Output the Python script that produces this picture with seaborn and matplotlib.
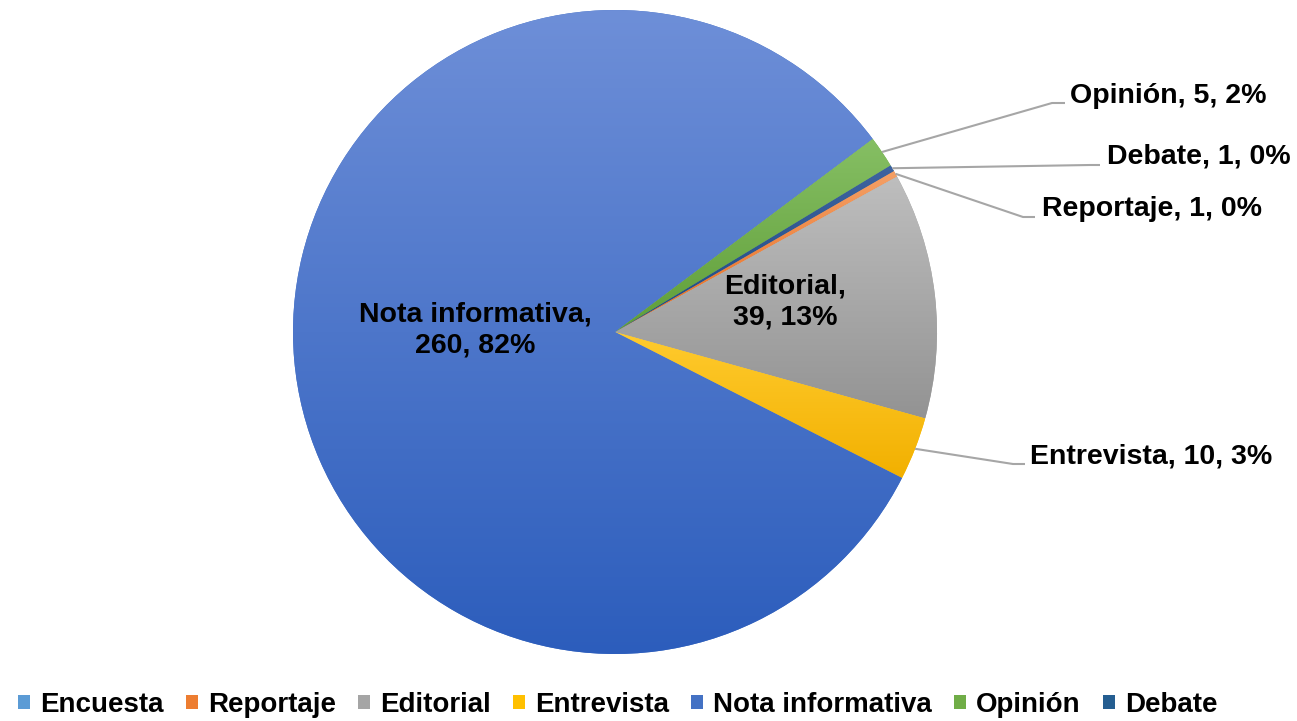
import numpy as np
import matplotlib.pyplot as plt
import seaborn as sns
from matplotlib.colors import LinearSegmentedColormap
from matplotlib.patches import Patch

categories = ["Encuesta", "Reportaje", "Editorial", "Entrevista",
              "Nota informativa", "Opinión", "Debate"]
counts = [0, 1, 39, 10, 260, 5, 1]
pct_labels = ["0%", "0%", "13%", "3%", "82%", "2%", "0%"]

top_colors = ["#6AA6DE", "#F4A066", "#BEBEBE", "#FFCB2E", "#6E8FD8", "#86BF64", "#3E63A0"]
bottom_colors = ["#3F82C8", "#E86B1E", "#939393", "#F2B000", "#2C5DBC", "#5F9E38", "#1E4A80"]
legend_colors = ["#5B9BD5", "#ED7D31", "#A5A5A5", "#FFC000", "#4472C4", "#70AD47", "#255E91"]

sns.set_theme(style="white")
plt.rcParams['font.family'] = ['Liberation Sans', 'DejaVu Sans']

W, H = 1297, 721
fig = plt.figure(figsize=(W / 100, H / 100), dpi=100)
ax = fig.add_axes([0, 0, 1, 1])

cx, cy, R = 615, H - 332, 322
wedges, _ = ax.pie(counts, startangle=30, counterclock=False, center=(cx, cy),
                   radius=R, colors=legend_colors, wedgeprops=dict(linewidth=0))

# vertical gradient in each slice, like the Excel fill
grad = np.linspace(0, 1, 256)[:, None]
for w, c0, c1 in zip(wedges, top_colors, bottom_colors):
    v = w.get_path().vertices
    x0, x1 = v[:, 0].min(), v[:, 0].max()
    y0, y1 = v[:, 1].min(), v[:, 1].max()
    if x1 - x0 < 1e-6 or y1 - y0 < 1e-6:
        continue
    cmap = LinearSegmentedColormap.from_list("g", [c0, c1])
    im = ax.imshow(grad, cmap=cmap, extent=(x0, x1, y0, y1), origin="upper",
                   aspect="auto", zorder=w.get_zorder() + 0.1)
    im.set_clip_path(w)

label_font = dict(fontsize=20.5, fontweight="bold", color="black")

# labels inside the pie: index -> centre (px, top origin)
inside = {4: (475, 330), 2: (785, 302)}
for i, (tx, ty) in inside.items():
    ax.text(tx, H - ty, f"{categories[i]},\n{counts[i]}, {pct_labels[i]}",
            ha="center", va="center", linespacing=1.25, zorder=5, **label_font)

# labels outside with leader lines: index -> (elbow x, elbow y, end x, text x, text y)
outside = {
    5: (1052, 103, 1065, 1070, 96),
    6: (1090, 165, 1100, 1107, 157),
    1: (1023, 217, 1035, 1042, 209),
    3: (1013, 464, 1025, 1030, 456),
}
for i, (ex, ey, endx, tx, ty) in outside.items():
    w = wedges[i]
    mid = np.deg2rad((w.theta1 + w.theta2) / 2)
    sx, sy = cx + R * np.cos(mid), cy + R * np.sin(mid)
    ax.plot([sx, ex, endx], [sy, H - ey, H - ey], color="#A6A6A6", lw=1.5,
            solid_capstyle="butt", zorder=4)
    ax.text(tx, H - ty, f"{categories[i]}, {counts[i]}, {pct_labels[i]}",
            ha="left", va="center", zorder=5, **label_font)

ax.set_xlim(0, W)
ax.set_ylim(0, H)
ax.set_aspect("auto")
ax.axis("off")

# legend along the bottom
handles = [Patch(facecolor=c, edgecolor="none", label=n)
           for n, c in zip(categories, legend_colors)]
fig.legend(handles=handles, loc="center", ncol=7, frameon=False,
           bbox_to_anchor=(618 / W, 1 - 705 / H),
           prop=dict(family="Liberation Sans", weight="bold", size=20),
           labelcolor="black",
           handlelength=0.43, handleheight=0.43, handletextpad=0.36,
           columnspacing=0.8, borderaxespad=0)

fig.savefig("out.png", dpi=100, facecolor="white")
